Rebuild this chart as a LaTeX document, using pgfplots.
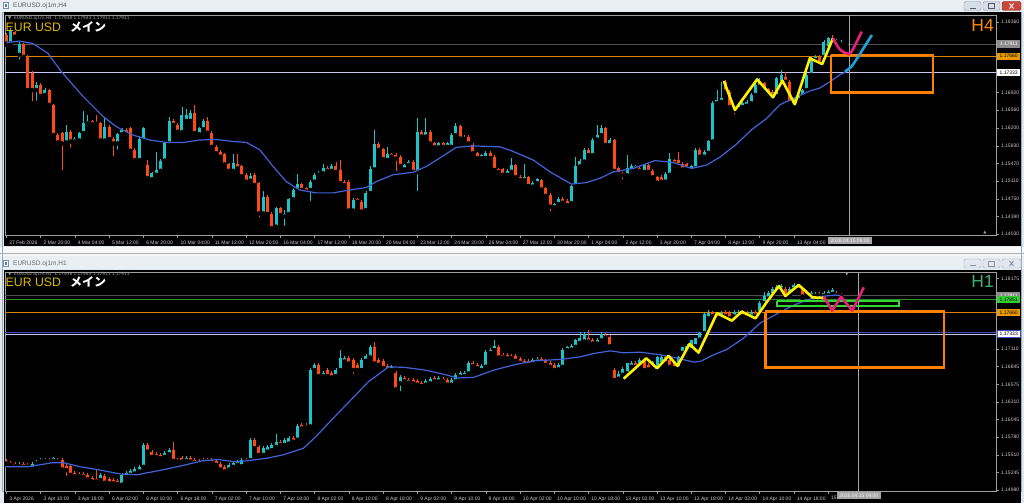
\documentclass[border=0pt]{standalone}
\usepackage{pgfplots}
\pgfplotsset{compat=1.18}
\usepackage{pgfplotstable}
\usepackage{fontspec}
\setmainfont{Liberation Sans}
\newfontfamily\jp{Noto Sans CJK JP}
\newfontfamily\dv{DejaVu Sans}
\definecolor{upc}{HTML}{1CC3C8}
\definecolor{dnc}{HTML}{FF4A14}
\definecolor{mac}{HTML}{4163D8}
\definecolor{ylw}{HTML}{FFF200}
\definecolor{mag}{HTML}{E8207A}
\definecolor{lbl}{HTML}{1AA3E0}
\definecolor{org}{HTML}{FF8000}
\definecolor{orl}{HTML}{D98200}
\definecolor{grn}{HTML}{33D633}
\definecolor{grl}{HTML}{2E8B2E}
\definecolor{lav}{HTML}{C8C8F8}
\definecolor{tickc}{HTML}{C8C8C8}
\definecolor{chrome}{HTML}{E1E7EE}
\definecolor{tbar}{HTML}{EAEFF4}
\definecolor{eurc}{HTML}{DDBB00}
\definecolor{h4c}{HTML}{FF8C00}
\definecolor{h1c}{HTML}{3CB371}
\definecolor{curl}{HTML}{505050}
\definecolor{frmln}{HTML}{9AA8B8}
\definecolor{icona}{HTML}{7890B0}
\definecolor{iconb}{HTML}{4A7CC0}
\definecolor{tta}{HTML}{5A5A5A}
\definecolor{ttb}{HTML}{6A6A6A}
\definecolor{btn}{HTML}{D6DEE8}
\definecolor{btnd}{HTML}{8A98A8}
\definecolor{cls}{HTML}{C8463C}
\definecolor{clsd}{HTML}{8A3028}
\definecolor{btns}{HTML}{505860}
\definecolor{btnb}{HTML}{E2E8EF}
\definecolor{btnbd}{HTML}{A0AAB6}
\definecolor{btnbs}{HTML}{8890A0}
\definecolor{blul}{HTML}{4050C0}
\definecolor{gbox}{HTML}{8C8C8C}
\definecolor{obox}{HTML}{E89A00}
\definecolor{gnbox}{HTML}{33CC33}
\definecolor{tbox}{HTML}{A6A6A6}
\definecolor{tboxt}{HTML}{F4F4F4}

% ---------------- H4 candles: i open high low close ----------------
\pgfplotstableread{
i o h l c
0 1.1809 1.1813 1.1789 1.1792
2 1.1816 1.1818 1.1803 1.1806
4 1.1792 1.1794 1.1762 1.1765
5 1.1765 1.1769 1.1695 1.1697
6 1.1731 1.1735 1.1670 1.1697
8 1.1707 1.1711 1.1682 1.1685
10 1.1697 1.1699 1.1665 1.1667
11 1.1667 1.1669 1.1602 1.1605
12 1.1605 1.1609 1.1581 1.1590
13 1.1609 1.1612 1.1529 1.1588
15 1.1612 1.1616 1.1575 1.1592
20 1.1633 1.1636 1.1625 1.1628
21 1.1631 1.1646 1.1625 1.1628
22 1.1629 1.1632 1.1592 1.1594
24 1.1622 1.1625 1.1594 1.1597
25 1.1598 1.1602 1.1558 1.1588
28 1.1616 1.1619 1.1603 1.1607
29 1.1619 1.1622 1.1570 1.1573
30 1.1575 1.1578 1.1551 1.1554
33 1.1544 1.1554 1.1515 1.1517
39 1.1634 1.1637 1.1622 1.1626
40 1.1626 1.1629 1.1609 1.1612
44 1.1651 1.1667 1.1607 1.1609
47 1.1634 1.1643 1.1607 1.1610
48 1.1610 1.1613 1.1579 1.1581
49 1.1581 1.1585 1.1565 1.1568
50 1.1571 1.1575 1.1558 1.1561
51 1.1566 1.1569 1.1543 1.1545
52 1.1545 1.1548 1.1530 1.1532
54 1.1547 1.1566 1.1534 1.1537
55 1.1541 1.1543 1.1519 1.1521
56 1.1524 1.1527 1.1507 1.1510
58 1.1524 1.1527 1.1500 1.1503
59 1.1507 1.1510 1.1433 1.1445
61 1.1479 1.1483 1.1441 1.1444
62 1.1444 1.1447 1.1411 1.1415
64 1.1456 1.1459 1.1439 1.1442
69 1.1505 1.1508 1.1490 1.1493
70 1.1496 1.1500 1.1486 1.1490
75 1.1538 1.1541 1.1530 1.1532
77 1.1542 1.1551 1.1528 1.1530
78 1.1534 1.1554 1.1504 1.1507
79 1.1510 1.1513 1.1500 1.1503
80 1.1510 1.1513 1.1448 1.1451
82 1.1474 1.1477 1.1466 1.1469
83 1.1469 1.1473 1.1444 1.1449
87 1.1587 1.1590 1.1572 1.1575
88 1.1576 1.1579 1.1553 1.1556
90 1.1566 1.1569 1.1558 1.1561
91 1.1564 1.1568 1.1527 1.1557
92 1.1561 1.1564 1.1539 1.1542
95 1.1551 1.1554 1.1527 1.1530
97 1.1612 1.1616 1.1599 1.1602
99 1.1612 1.1616 1.1585 1.1588
100 1.1588 1.1591 1.1577 1.1580
102 1.1588 1.1591 1.1579 1.1581
106 1.1624 1.1626 1.1596 1.1598
107 1.1602 1.1605 1.1594 1.1597
108 1.1602 1.1605 1.1585 1.1588
109 1.1585 1.1588 1.1565 1.1568
110 1.1568 1.1571 1.1555 1.1558
113 1.1569 1.1572 1.1555 1.1558
114 1.1561 1.1564 1.1531 1.1534
115 1.1535 1.1538 1.1528 1.1530
116 1.1535 1.1538 1.1521 1.1524
119 1.1544 1.1547 1.1516 1.1519
120 1.1520 1.1523 1.1510 1.1513
122 1.1519 1.1522 1.1498 1.1501
125 1.1513 1.1516 1.1491 1.1494
126 1.1496 1.1499 1.1478 1.1481
127 1.1483 1.1486 1.1445 1.1459
130 1.1475 1.1478 1.1464 1.1467
131 1.1471 1.1474 1.1459 1.1462
136 1.1575 1.1578 1.1561 1.1564
140 1.1619 1.1622 1.1582 1.1585
142 1.1595 1.1598 1.1529 1.1532
143 1.1537 1.1540 1.1523 1.1526
144 1.1527 1.1530 1.1510 1.1523
148 1.1537 1.1540 1.1529 1.1532
150 1.1544 1.1547 1.1527 1.1530
151 1.1532 1.1535 1.1516 1.1519
152 1.1519 1.1522 1.1505 1.1508
153 1.1520 1.1523 1.1507 1.1510
156 1.1554 1.1557 1.1544 1.1547
157 1.1554 1.1571 1.1541 1.1544
158 1.1547 1.1550 1.1532 1.1535
159 1.1546 1.1549 1.1534 1.1537
162 1.1575 1.1578 1.1558 1.1561
168 1.1714 1.1718 1.1690 1.1694
169 1.1694 1.1697 1.1659 1.1662
170 1.1662 1.1665 1.1643 1.1655
177 1.1711 1.1714 1.1694 1.1697
178 1.1699 1.1702 1.1686 1.1689
179 1.1694 1.1697 1.1680 1.1684
182 1.1724 1.1733 1.1711 1.1714
183 1.1714 1.1717 1.1665 1.1670
190 1.1765 1.1769 1.1748 1.1752
193 1.1803 1.1810 1.1790 1.1793
196 1.1793 1.1794 1.1790 1.1791
}\topdn
\pgfplotstableread{
i o h l c
1 1.1792 1.1823 1.1790 1.1820
3 1.1769 1.1796 1.1755 1.1792
7 1.1697 1.1714 1.1671 1.1707
9 1.1687 1.1701 1.1684 1.1697
14 1.1590 1.1626 1.1587 1.1612
16 1.1592 1.1602 1.1588 1.1598
17 1.1594 1.1612 1.1592 1.1609
18 1.1609 1.1654 1.1605 1.1629
19 1.1629 1.1646 1.1619 1.1633
23 1.1594 1.1643 1.1592 1.1622
26 1.1588 1.1610 1.1571 1.1607
27 1.1607 1.1619 1.1605 1.1616
31 1.1554 1.1602 1.1546 1.1598
32 1.1595 1.1622 1.1592 1.1619
34 1.1515 1.1530 1.1507 1.1527
35 1.1524 1.1571 1.1522 1.1534
36 1.1532 1.1556 1.1530 1.1553
37 1.1553 1.1591 1.1551 1.1588
38 1.1588 1.1641 1.1586 1.1633
41 1.1611 1.1663 1.1609 1.1646
42 1.1634 1.1658 1.1632 1.1646
43 1.1634 1.1656 1.1632 1.1651
45 1.1607 1.1622 1.1605 1.1619
46 1.1617 1.1637 1.1614 1.1634
53 1.1532 1.1566 1.1530 1.1549
57 1.1512 1.1527 1.1507 1.1522
60 1.1445 1.1490 1.1443 1.1478
63 1.1418 1.1459 1.1415 1.1456
65 1.1439 1.1452 1.1415 1.1444
66 1.1444 1.1477 1.1441 1.1474
67 1.1474 1.1496 1.1471 1.1493
68 1.1493 1.1526 1.1490 1.1505
71 1.1493 1.1513 1.1466 1.1510
72 1.1510 1.1527 1.1507 1.1524
73 1.1524 1.1531 1.1521 1.1528
74 1.1527 1.1547 1.1524 1.1538
76 1.1532 1.1545 1.1530 1.1542
81 1.1451 1.1476 1.1448 1.1473
84 1.1452 1.1490 1.1449 1.1486
85 1.1487 1.1541 1.1485 1.1535
86 1.1535 1.1616 1.1533 1.1587
89 1.1554 1.1581 1.1551 1.1566
93 1.1535 1.1547 1.1532 1.1544
94 1.1544 1.1554 1.1541 1.1551
96 1.1530 1.1639 1.1486 1.1612
98 1.1602 1.1639 1.1599 1.1612
101 1.1580 1.1591 1.1577 1.1588
103 1.1581 1.1591 1.1579 1.1588
104 1.1581 1.1609 1.1579 1.1605
105 1.1605 1.1629 1.1603 1.1624
111 1.1558 1.1567 1.1555 1.1564
112 1.1558 1.1572 1.1555 1.1569
117 1.1524 1.1535 1.1521 1.1532
118 1.1530 1.1558 1.1528 1.1544
121 1.1513 1.1547 1.1510 1.1520
123 1.1500 1.1511 1.1497 1.1508
124 1.1507 1.1518 1.1504 1.1515
128 1.1458 1.1467 1.1455 1.1464
129 1.1464 1.1478 1.1461 1.1475
132 1.1466 1.1504 1.1458 1.1501
133 1.1503 1.1561 1.1500 1.1541
134 1.1541 1.1556 1.1538 1.1553
135 1.1551 1.1578 1.1548 1.1575
137 1.1564 1.1599 1.1561 1.1596
138 1.1596 1.1626 1.1593 1.1605
139 1.1605 1.1626 1.1602 1.1619
141 1.1585 1.1599 1.1582 1.1596
145 1.1523 1.1564 1.1521 1.1537
146 1.1532 1.1547 1.1529 1.1541
147 1.1537 1.1544 1.1534 1.1541
149 1.1530 1.1547 1.1527 1.1544
154 1.1510 1.1529 1.1507 1.1526
155 1.1524 1.1568 1.1521 1.1556
160 1.1534 1.1544 1.1526 1.1541
161 1.1537 1.1578 1.1534 1.1575
163 1.1561 1.1574 1.1558 1.1571
164 1.1569 1.1595 1.1566 1.1592
165 1.1592 1.1674 1.1589 1.1670
166 1.1670 1.1697 1.1666 1.1677
167 1.1673 1.1714 1.1670 1.1680
171 1.1658 1.1670 1.1655 1.1667
172 1.1662 1.1673 1.1659 1.1670
173 1.1665 1.1677 1.1662 1.1673
174 1.1670 1.1690 1.1667 1.1687
175 1.1687 1.1711 1.1684 1.1707
176 1.1704 1.1721 1.1700 1.1714
180 1.1684 1.1724 1.1680 1.1721
181 1.1711 1.1738 1.1707 1.1728
184 1.1667 1.1680 1.1663 1.1677
185 1.1677 1.1690 1.1673 1.1687
186 1.1685 1.1700 1.1681 1.1697
187 1.1697 1.1731 1.1694 1.1728
188 1.1728 1.1765 1.1724 1.1762
189 1.1758 1.1769 1.1755 1.1765
191 1.1765 1.1799 1.1762 1.1796
192 1.1782 1.1806 1.1779 1.1803
194 1.1795 1.1801 1.1792 1.1799
195 1.1791 1.1799 1.1787 1.1796
}\topup
% ---------------- H1 candles ----------------
\pgfplotstableread{
i o h l c
0 1.1542 1.1545 1.1535 1.1538
1 1.1539 1.1542 1.1533 1.1536
2 1.1538 1.1541 1.1531 1.1534
4 1.1537 1.1540 1.1530 1.1533
5 1.1536 1.1539 1.1530 1.1533
10 1.1544 1.1547 1.1538 1.1541
12 1.1544 1.1547 1.1538 1.1541
13 1.1543 1.1546 1.1526 1.1529
14 1.1534 1.1537 1.1516 1.1528
15 1.1534 1.1537 1.1518 1.1521
16 1.1523 1.1526 1.1516 1.1519
17 1.1522 1.1525 1.1516 1.1519
18 1.1522 1.1525 1.1515 1.1518
19 1.1521 1.1524 1.1511 1.1514
20 1.1516 1.1519 1.1508 1.1511
21 1.1514 1.1528 1.1508 1.1511
23 1.1519 1.1522 1.1506 1.1509
24 1.1514 1.1517 1.1505 1.1508
25 1.1513 1.1516 1.1505 1.1508
26 1.1512 1.1515 1.1504 1.1507
33 1.1566 1.1569 1.1553 1.1556
34 1.1556 1.1559 1.1545 1.1548
35 1.1553 1.1556 1.1545 1.1548
36 1.1551 1.1554 1.1543 1.1546
39 1.1559 1.1571 1.1539 1.1542
40 1.1544 1.1547 1.1538 1.1541
41 1.1546 1.1549 1.1538 1.1541
43 1.1547 1.1550 1.1538 1.1541
44 1.1543 1.1546 1.1536 1.1539
45 1.1542 1.1545 1.1535 1.1538
47 1.1544 1.1547 1.1538 1.1541
48 1.1543 1.1546 1.1536 1.1539
49 1.1542 1.1545 1.1533 1.1536
50 1.1538 1.1541 1.1526 1.1529
51 1.1533 1.1536 1.1523 1.1526
56 1.1544 1.1547 1.1538 1.1541
58 1.1573 1.1576 1.1558 1.1561
59 1.1563 1.1566 1.1548 1.1551
64 1.1571 1.1574 1.1563 1.1566
67 1.1576 1.1579 1.1568 1.1571
69 1.1596 1.1599 1.1588 1.1591
70 1.1596 1.1599 1.1590 1.1593
73 1.1687 1.1690 1.1667 1.1670
75 1.1679 1.1682 1.1667 1.1670
76 1.1674 1.1677 1.1665 1.1668
80 1.1697 1.1700 1.1686 1.1689
81 1.1694 1.1697 1.1670 1.1679
82 1.1687 1.1690 1.1676 1.1679
86 1.1714 1.1722 1.1686 1.1689
87 1.1694 1.1697 1.1684 1.1687
88 1.1692 1.1695 1.1679 1.1682
89 1.1685 1.1688 1.1676 1.1679
91 1.1674 1.1677 1.1647 1.1650
93 1.1667 1.1670 1.1659 1.1662
94 1.1664 1.1667 1.1657 1.1660
95 1.1664 1.1667 1.1656 1.1659
96 1.1662 1.1665 1.1654 1.1657
97 1.1659 1.1662 1.1652 1.1655
100 1.1667 1.1670 1.1659 1.1662
102 1.1665 1.1668 1.1659 1.1662
103 1.1664 1.1667 1.1654 1.1657
109 1.1689 1.1692 1.1682 1.1685
110 1.1687 1.1690 1.1679 1.1682
115 1.1714 1.1717 1.1695 1.1698
116 1.1702 1.1705 1.1695 1.1698
117 1.1702 1.1705 1.1694 1.1697
118 1.1700 1.1703 1.1694 1.1697
119 1.1700 1.1703 1.1690 1.1693
120 1.1695 1.1698 1.1687 1.1690
121 1.1693 1.1696 1.1685 1.1688
122 1.1693 1.1696 1.1684 1.1687
125 1.1695 1.1698 1.1687 1.1690
126 1.1692 1.1695 1.1684 1.1687
127 1.1690 1.1693 1.1681 1.1684
128 1.1687 1.1690 1.1676 1.1679
136 1.1727 1.1740 1.1719 1.1722
137 1.1724 1.1727 1.1716 1.1719
140 1.1732 1.1735 1.1725 1.1728
141 1.1729 1.1732 1.1712 1.1715
142 1.1679 1.1682 1.1661 1.1664
147 1.1690 1.1693 1.1681 1.1684
149 1.1692 1.1695 1.1676 1.1679
150 1.1687 1.1690 1.1677 1.1680
154 1.1698 1.1701 1.1686 1.1689
155 1.1694 1.1697 1.1681 1.1684
156 1.1689 1.1692 1.1679 1.1682
165 1.1765 1.1768 1.1757 1.1760
166 1.1762 1.1765 1.1754 1.1757
168 1.1766 1.1769 1.1757 1.1760
169 1.1765 1.1768 1.1754 1.1757
172 1.1766 1.1769 1.1757 1.1760
173 1.1765 1.1768 1.1756 1.1759
175 1.1767 1.1770 1.1758 1.1761
182 1.1802 1.1805 1.1789 1.1792
185 1.1806 1.1809 1.1797 1.1800
186 1.1802 1.1805 1.1787 1.1790
187 1.1797 1.1800 1.1789 1.1792
190 1.1794 1.1797 1.1788 1.1791
194 1.1795 1.1798 1.1789 1.1792
195 1.1793 1.1795 1.1790 1.1791
}\botdn
\pgfplotstableread{
i o h l c
3 1.1534 1.1540 1.1531 1.1537
6 1.1531 1.1541 1.1528 1.1538
7 1.1538 1.1544 1.1536 1.1541
8 1.1541 1.1547 1.1539 1.1544
9 1.1542 1.1547 1.1540 1.1544
11 1.1542 1.1548 1.1539 1.1546
22 1.1513 1.1524 1.1510 1.1521
27 1.1506 1.1524 1.1503 1.1521
28 1.1519 1.1526 1.1516 1.1523
29 1.1521 1.1529 1.1518 1.1526
30 1.1523 1.1532 1.1520 1.1529
31 1.1526 1.1536 1.1523 1.1533
32 1.1533 1.1569 1.1530 1.1566
37 1.1548 1.1557 1.1545 1.1554
38 1.1552 1.1562 1.1549 1.1559
42 1.1542 1.1549 1.1539 1.1546
46 1.1541 1.1547 1.1538 1.1544
52 1.1529 1.1539 1.1526 1.1536
53 1.1533 1.1542 1.1530 1.1539
54 1.1536 1.1544 1.1533 1.1541
55 1.1534 1.1547 1.1531 1.1544
57 1.1543 1.1577 1.1540 1.1574
60 1.1551 1.1564 1.1548 1.1561
61 1.1556 1.1566 1.1553 1.1563
62 1.1558 1.1569 1.1555 1.1566
63 1.1563 1.1583 1.1560 1.1571
65 1.1566 1.1577 1.1563 1.1574
66 1.1568 1.1579 1.1565 1.1576
68 1.1574 1.1597 1.1571 1.1594
71 1.1594 1.1682 1.1591 1.1679
72 1.1679 1.1690 1.1676 1.1687
74 1.1670 1.1678 1.1667 1.1675
77 1.1670 1.1682 1.1667 1.1679
78 1.1679 1.1709 1.1676 1.1697
79 1.1692 1.1700 1.1689 1.1697
83 1.1679 1.1697 1.1676 1.1694
84 1.1693 1.1703 1.1690 1.1700
85 1.1698 1.1717 1.1695 1.1714
90 1.1679 1.1687 1.1676 1.1684
92 1.1659 1.1671 1.1644 1.1668
98 1.1657 1.1665 1.1654 1.1662
99 1.1659 1.1668 1.1656 1.1665
101 1.1662 1.1670 1.1659 1.1667
104 1.1657 1.1667 1.1654 1.1664
105 1.1662 1.1675 1.1659 1.1672
106 1.1669 1.1677 1.1666 1.1674
107 1.1670 1.1677 1.1667 1.1674
108 1.1674 1.1692 1.1671 1.1689
111 1.1679 1.1688 1.1676 1.1685
112 1.1684 1.1710 1.1681 1.1707
113 1.1705 1.1713 1.1702 1.1710
114 1.1709 1.1724 1.1706 1.1715
123 1.1688 1.1697 1.1685 1.1694
124 1.1692 1.1698 1.1689 1.1695
129 1.1680 1.1690 1.1677 1.1687
130 1.1684 1.1713 1.1681 1.1710
131 1.1709 1.1716 1.1706 1.1714
132 1.1710 1.1718 1.1707 1.1715
133 1.1714 1.1726 1.1711 1.1724
134 1.1720 1.1737 1.1717 1.1728
135 1.1722 1.1737 1.1719 1.1734
138 1.1719 1.1727 1.1716 1.1724
139 1.1724 1.1737 1.1721 1.1734
143 1.1666 1.1677 1.1663 1.1673
144 1.1672 1.1683 1.1669 1.1680
145 1.1674 1.1690 1.1671 1.1689
146 1.1684 1.1693 1.1681 1.1690
148 1.1686 1.1697 1.1683 1.1694
151 1.1684 1.1692 1.1681 1.1691
152 1.1682 1.1700 1.1679 1.1699
153 1.1688 1.1701 1.1685 1.1698
157 1.1682 1.1700 1.1679 1.1699
158 1.1705 1.1714 1.1702 1.1714
159 1.1707 1.1718 1.1704 1.1715
160 1.1709 1.1722 1.1706 1.1724
161 1.1715 1.1727 1.1712 1.1727
162 1.1725 1.1736 1.1722 1.1735
163 1.1735 1.1767 1.1732 1.1764
164 1.1757 1.1769 1.1754 1.1765
167 1.1760 1.1768 1.1757 1.1765
170 1.1760 1.1769 1.1757 1.1766
171 1.1762 1.1770 1.1759 1.1767
174 1.1760 1.1770 1.1757 1.1767
176 1.1765 1.1783 1.1762 1.1780
177 1.1780 1.1797 1.1777 1.1791
178 1.1787 1.1798 1.1784 1.1795
179 1.1792 1.1805 1.1789 1.1802
180 1.1799 1.1808 1.1796 1.1805
181 1.1801 1.1809 1.1798 1.1806
183 1.1794 1.1805 1.1791 1.1802
184 1.1801 1.1811 1.1798 1.1807
188 1.1791 1.1798 1.1788 1.1795
189 1.1791 1.1797 1.1788 1.1794
191 1.1791 1.1798 1.1788 1.1795
192 1.1792 1.1800 1.1789 1.1797
193 1.1794 1.1803 1.1791 1.1800
}\botup

\pgfplotsset{
  mt/.style={
    scale only axis, width=991pt, xmin=-0.33, xmax=231.2,
    clip=false,
    axis line style={draw=gray!75, line width=0.6pt},
    xtick pos=left, ytick pos=right, xticklabel pos=left, yticklabel pos=right,
    tick align=outside, major tick length=2.5pt,
    tick style={draw=gray!75, line width=0.5pt},
    tick label style={font=\fontsize{5}{6}\selectfont, color=tickc},
    xticklabel style={anchor=north west, xshift=-0.6pt, yshift=0.5pt},
    yticklabel style={anchor=west, xshift=-1pt},
  },
  ov/.style={scale only axis, width=991pt, xmin=-0.33, xmax=231.2,
    clip=false, hide axis},
  cndl/.style n args={2}{only marks, mark=none, forget plot,
    error bars/.cd, y dir=plus, y explicit, error mark=none,
    error bar style={line width=#2, draw=#1}},
}
\tikzset{
  pbox/.style={anchor=west, xshift=1pt, minimum width=23pt, minimum height=7.2pt,
    inner sep=0pt, font=\fontsize{5}{6}\selectfont},
}

\begin{document}
\begin{tikzpicture}[x=1pt,y=1pt]
\useasboundingbox (0,0) rectangle (1024,503);
% ---- window chrome ----
\fill[chrome] (0,0) rectangle (1024,503);
\fill[tbar] (0,491) rectangle (1024,503);
\fill[tbar] (0,233.5) rectangle (1024,246.5);
\fill[white!94!gray] (0,247) rectangle (1024,256);
\draw[gray!60] (0,249.5) -- (1024,249.5);
\draw[frmln] (2.5,12) rectangle (1021.5,491);
% icons
\fill[icona] (3,494) rectangle (9,501);
\fill[white] (4,495) rectangle (8,500);
\fill[iconb] (5,496) rectangle (7,499);
\fill[icona] (3,236) rectangle (9,243);
\fill[white] (4,237) rectangle (8,242);
\fill[iconb] (5,238) rectangle (7,241);
% title texts
\node[anchor=west, font=\fontsize{6.5}{7}\selectfont, text=tta, inner sep=0pt] at (13,497) {EURUSD.oj1m,H4};
\node[anchor=west, font=\fontsize{6.5}{7}\selectfont, text=ttb, inner sep=0pt] at (13,239.5) {EURUSD.oj1m,H1};
% buttons top
\filldraw[fill=btn, draw=btnd, rounded corners=1.5pt] (964,492.5) rectangle (981,501.5);
\filldraw[fill=btn, draw=btnd, rounded corners=1.5pt] (983,492.5) rectangle (1000,501.5);
\filldraw[fill=cls, draw=clsd, rounded corners=1.5pt] (1002,492.5) rectangle (1021,501.5);
\draw[btns, line width=0.8pt] (969.5,495) -- (975.5,495);
\draw[btns, line width=0.6pt] (988.5,494.5) rectangle (994.5,499.5);
\draw[white, line width=0.9pt] (1009.5,494.5) -- (1013.5,499.5) (1009.5,499.5) -- (1013.5,494.5);
% buttons bottom
\filldraw[fill=btnb, draw=btnbd, rounded corners=1.5pt] (964,235) rectangle (981,244);
\filldraw[fill=btnb, draw=btnbd, rounded corners=1.5pt] (983,235) rectangle (1000,244);
\filldraw[fill=btnb, draw=btnbd, rounded corners=1.5pt] (1002,235) rectangle (1021,244);
\draw[btnbs, line width=0.8pt] (969.5,237.5) -- (975.5,237.5);
\draw[btnbs, line width=0.6pt] (988.5,237) rectangle (994.5,242);
\draw[btnbs, line width=0.9pt] (1009.5,237) -- (1013.5,242) (1009.5,242) -- (1013.5,237);
% black chart areas
\fill[black] (3.5,256.5) rectangle (1021,490.5);
\fill[black] (3.5,0) rectangle (1021,233);

% ================= TOP H4 =================
\begin{axis}[mt, at={(5pt,267.4pt)}, anchor=south west, height=220.6pt,
  ymin=1.13998, ymax=1.18503,
  xtick={0,8,...,184},
  xticklabels={27 Feb 2026,2 Mar 20:00,4 Mar 04:00,5 Mar 12:00,6 Mar 20:00,10 Mar 04:00,11 Mar 12:00,12 Mar 20:00,16 Mar 04:00,17 Mar 12:00,18 Mar 20:00,20 Mar 04:00,23 Mar 12:00,24 Mar 20:00,26 Mar 04:00,27 Mar 12:00,30 Mar 20:00,1 Apr 04:00,2 Apr 12:00,3 Apr 20:00,7 Apr 04:00,8 Apr 12:00,9 Apr 20:00,13 Apr 04:00},
  ytick={1.14030,1.14390,1.14750,1.15110,1.15470,1.15830,1.16200,1.16560,1.16920,1.18360},
  yticklabels={1.14030,1.14390,1.14750,1.15110,1.15470,1.15830,1.16200,1.16560,1.16920,1.18360},
]
\addplot[curl, line width=0.7pt] coordinates {(-0.33,1.17911) (231.2,1.17911)};
\addplot[orl, line width=0.8pt] coordinates {(-0.33,1.17660) (231.2,1.17660)};
\addplot[lav, line width=0.9pt] coordinates {(-0.33,1.17333) (231.2,1.17333)};
\addplot[gray!70, line width=0.7pt] coordinates {(196.9,1.13998) (196.9,1.18503)};
\addplot[cndl={dnc}{0.8pt}] table[x=i, y=l, y error plus expr=\thisrow{h}-\thisrow{l}] {\topdn};
\addplot[cndl={upc}{0.8pt}] table[x=i, y=l, y error plus expr=\thisrow{h}-\thisrow{l}] {\topup};
\addplot[cndl={dnc}{3pt}] table[x=i, y=c, y error plus expr=\thisrow{o}-\thisrow{c}] {\topdn};
\addplot[cndl={upc}{3pt}] table[x=i, y=o, y error plus expr=\thisrow{c}-\thisrow{o}] {\topup};
\node[pbox, fill=gbox, text=white] at (axis cs:231.2,1.17911) {1.17911};
\node[pbox, fill=obox, text=black] at (axis cs:231.2,1.17660) {1.17660};
\node[pbox, fill=white, text=black] at (axis cs:231.2,1.17333) {1.17333};
\end{axis}
% overlay (MA and drawn objects above the candles)
\begin{axis}[ov, at={(5pt,267.4pt)}, anchor=south west, height=220.6pt,
  ymin=1.13998, ymax=1.18503]
\addplot[mac, line width=1.2pt] coordinates {(0,1.1794)(3.1,1.1797)(6.2,1.1792)(9.7,1.1772)(12.8,1.1735)(17.9,1.1684)(22.6,1.1643)(25.7,1.1622)(29.6,1.1605)(33.5,1.1595)(37.4,1.1590)(41.3,1.1590)(45.2,1.1595)(49.1,1.1596)(52.9,1.1592)(56.1,1.1590)(59.2,1.1575)(62.3,1.1541)(65.4,1.1510)(68.5,1.1493)(72.4,1.1487)(76.3,1.1487)(80.2,1.1493)(84.1,1.1498)(86.4,1.1510)(90.3,1.1524)(95,1.1529)(98.1,1.1541)(101.2,1.1558)(105.1,1.1580)(109,1.1583)(115.3,1.1581)(118,1.1573)(123.1,1.1554)(127,1.1530)(132,1.1505)(135.5,1.1508)(138.7,1.1517)(141.8,1.1530)(146.5,1.1537)(151.5,1.1553)(155.8,1.1549)(160.1,1.1537)(163.6,1.1544)(166.7,1.1560)(170.5,1.1586)(174.1,1.1616)(177.6,1.1639)(180.7,1.1667)(183.8,1.1680)(187.7,1.1695)(190,1.1701)(192.4,1.1714)(194.7,1.1728)(196.3,1.1735)};
\addplot[org, line width=2.5pt] coordinates {(192.6,1.17686)(216.5,1.17686)(216.5,1.16916)(192.6,1.16916)(192.6,1.17686)};
\addplot[ylw, line width=2.6pt, line join=round] coordinates {(167.6,1.17155)(170.2,1.16563)(175.4,1.17189)(179.1,1.16822)(181.3,1.17162)(184.2,1.16679)(187.7,1.17618)(190.6,1.17502)(193.1,1.18027)};
\addplot[mag, line width=2.6pt, smooth, tension=0.6] coordinates {(193.1,1.18027)(194.7,1.17802)(196.3,1.17720)(197.4,1.17748)(199.8,1.18163)};
\addplot[lbl, line width=2.6pt, smooth, tension=0.5] coordinates {(195.9,1.17346)(197.4,1.17448)(198.6,1.17598)(202.2,1.18095)};
\end{axis}

% ================= BOTTOM H1 =================
\begin{axis}[mt, at={(5pt,12pt)}, anchor=south west, height=219pt,
  ymin=1.14965, ymax=1.18270,
  xtick={0,8,...,192},
  xticklabels={3 Apr 2026,3 Apr 10:00,3 Apr 18:00,6 Apr 02:00,6 Apr 10:00,6 Apr 18:00,7 Apr 02:00,7 Apr 10:00,7 Apr 18:00,8 Apr 02:00,8 Apr 10:00,8 Apr 18:00,9 Apr 02:00,9 Apr 10:00,9 Apr 18:00,10 Apr 02:00,10 Apr 10:00,10 Apr 18:00,13 Apr 02:00,13 Apr 10:00,13 Apr 18:00,14 Apr 02:00,14 Apr 10:00,14 Apr 18:00,15 A},
  ytick={1.14980,1.15245,1.15510,1.15780,1.16045,1.16310,1.16575,1.16845,1.17110,1.18175},
  yticklabels={1.14980,1.15245,1.15510,1.15780,1.16045,1.16310,1.16575,1.16845,1.17110,1.18175},
]
\addplot[curl, line width=0.7pt] coordinates {(-0.33,1.17911) (231.2,1.17911)};
\addplot[grl, line width=0.8pt] coordinates {(-0.33,1.17851) (231.2,1.17851)};
\addplot[orl, line width=0.8pt] coordinates {(-0.33,1.17660) (231.2,1.17660)};
\addplot[blul, line width=0.8pt] coordinates {(-0.33,1.17359) (231.2,1.17359)};
\addplot[lav, line width=0.9pt] coordinates {(-0.33,1.17333) (231.2,1.17333)};
\addplot[gray!70, line width=0.7pt] coordinates {(199.0,1.14965) (199.0,1.18270)};
\addplot[cndl={dnc}{0.8pt}] table[x=i, y=l, y error plus expr=\thisrow{h}-\thisrow{l}] {\botdn};
\addplot[cndl={upc}{0.8pt}] table[x=i, y=l, y error plus expr=\thisrow{h}-\thisrow{l}] {\botup};
\addplot[cndl={dnc}{3pt}] table[x=i, y=c, y error plus expr=\thisrow{o}-\thisrow{c}] {\botdn};
\addplot[cndl={upc}{3pt}] table[x=i, y=o, y error plus expr=\thisrow{c}-\thisrow{o}] {\botup};
\node[pbox, fill=gbox, text=white] at (axis cs:231.2,1.17911) {1.17911};
\node[pbox, fill=gnbox, text=black] at (axis cs:231.2,1.17851) {1.17851};
\node[pbox, fill=obox, text=black] at (axis cs:231.2,1.17660) {1.17660};
\node[pbox, fill=white, text=black, draw=blul, line width=0.5pt] at (axis cs:231.2,1.17333) {1.17333};
\end{axis}
\begin{axis}[ov, at={(5pt,12pt)}, anchor=south west, height=219pt,
  ymin=1.14965, ymax=1.18270]
\addplot[mac, line width=1.2pt] coordinates {(-0.3,1.1533)(4.9,1.1533)(10.6,1.1539)(13.5,1.1539)(17.3,1.1533)(22,1.1528)(26.7,1.1522)(30.5,1.1521)(36.2,1.1528)(41.9,1.1536)(45.7,1.1542)(49.5,1.1544)(52.8,1.1541)(56.1,1.1542)(60.9,1.1546)(64.6,1.1551)(69.4,1.1561)(72.2,1.1578)(76,1.1604)(80.8,1.1636)(84.5,1.1661)(89.3,1.1684)(93.1,1.1683)(97.8,1.1679)(102.6,1.1672)(105.4,1.1667)(109.2,1.1668)(113.9,1.1679)(118.7,1.1687)(123.4,1.1693)(129.4,1.1695)(134.1,1.1699)(137.2,1.1704)(141.1,1.1708)(144.2,1.1705)(148.1,1.1706)(152.8,1.1702)(156.7,1.1697)(160.6,1.1691)(162.1,1.1692)(165.2,1.1702)(168.3,1.1710)(172.2,1.1727)(176.1,1.1750)(180.9,1.1767)(184,1.1777)(187.1,1.1785)(190.2,1.1790)(193.3,1.1792)(194.7,1.1792)};
\addplot[org, line width=2.5pt] coordinates {(177.3,1.17671)(219.0,1.17671)(219.0,1.16832)(177.3,1.16832)(177.3,1.17671)};
\addplot[grn, line width=2.2pt] coordinates {(180.1,1.17837)(208.5,1.17837)(208.5,1.17757)(180.1,1.17757)(180.1,1.17837)};
\addplot[ylw, line width=2.6pt, line join=round] coordinates {(144.2,1.1666)(149.5,1.16968)(152.0,1.16817)(154.7,1.17003)(156.8,1.16852)(159.6,1.17184)(161.7,1.17053)(166.0,1.17647)(169.5,1.17536)(171.8,1.17672)(175.0,1.17571)(177.7,1.17822)(180.5,1.18059)(182.0,1.17908)(185.1,1.18074)(188.3,1.17888)(191.0,1.17877)};
\addplot[mag, line width=2.6pt, line join=round] coordinates {(191.0,1.17898)(192.9,1.17686)(195.0,1.17898)(197.6,1.17686)(200.3,1.18038)};
\end{axis}

% ---- overlay texts ----
\node[anchor=west, font=\dv\fontsize{4.3}{5}\selectfont, text=gray!75, inner sep=0pt] at (8,484.5) {▼ \ EURUSD.oj1m,H4 \ 1.17938 1.17943 1.17911 1.17911};
\node[anchor=west, font=\dv\fontsize{4.3}{5}\selectfont, text=gray!75, inner sep=0pt] at (8,229) {▼ \ EURUSD.oj1m,H1 \ 1.17938 1.17943 1.17911 1.17911};
\node[anchor=base west, font=\fontsize{12.3}{14}\selectfont, text=eurc, inner sep=0pt] at (5.5,471.3) {EUR USD};
\node[anchor=base west, font=\jp\bfseries\fontsize{12}{14}\selectfont, text=white, inner sep=0pt] at (70,471.3) {メイン};
\node[anchor=base west, font=\fontsize{12.3}{14}\selectfont, text=eurc, inner sep=0pt] at (5.5,216.3) {EUR USD};
\node[anchor=base west, font=\jp\bfseries\fontsize{12}{14}\selectfont, text=white, inner sep=0pt] at (70,216.3) {メイン};
\node[anchor=base east, font=\fontsize{17.5}{19}\selectfont, text=h4c, inner sep=0pt] at (994,471.3) {H4};
\node[anchor=base east, font=\fontsize{17.5}{19}\selectfont, text=h1c, inner sep=0pt] at (994,215) {H1};
\node[fill=tbox, text=tboxt, font=\fontsize{5}{6}\selectfont, inner sep=0pt, minimum width=44pt, minimum height=7pt] at (850,262.3) {2026.04.15 09:00};
\node[fill=tbox, text=tboxt, font=\fontsize{5}{6}\selectfont, inner sep=0pt, minimum width=44pt, minimum height=7pt] at (858.8,7.5) {2026.04.15 09:00};
\node[font=\dv\fontsize{4}{4}\selectfont, text=gray!70, inner sep=0pt] at (985,271) {▲};
\node[font=\dv\fontsize{4}{4}\selectfont, text=gray!70, inner sep=0pt] at (847,229) {▼};
\end{tikzpicture}
\end{document}
